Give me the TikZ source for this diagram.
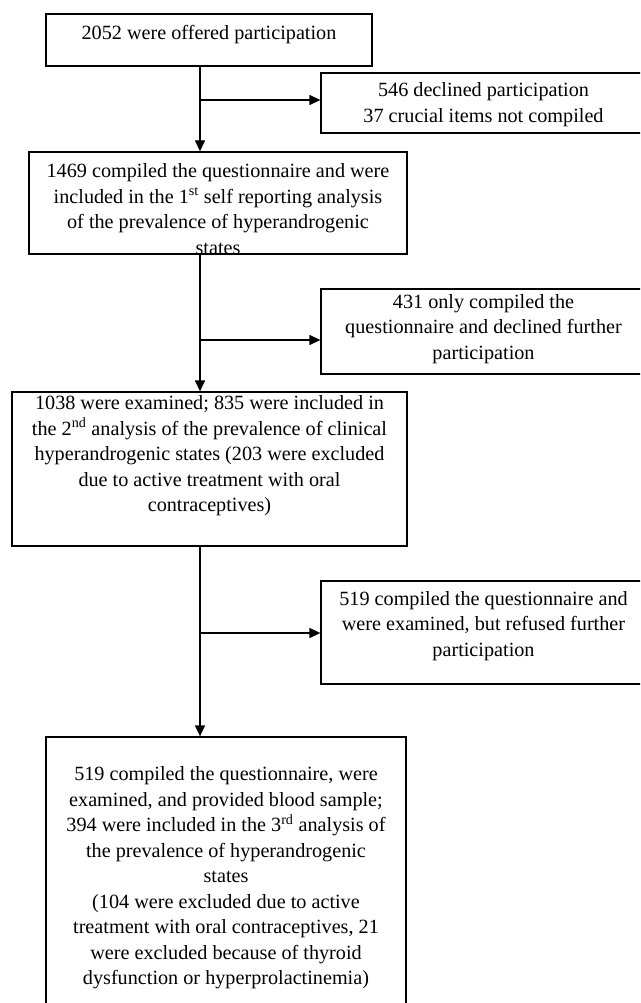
\documentclass[tikz,border=0pt]{standalone}
\usepackage{fontspec}
\setmainfont{Liberation Serif}
\usetikzlibrary{arrows.meta}
\begin{document}
\begin{tikzpicture}[x=1pt,y=-1pt,
  box/.style={draw=black, line width=1.3pt, rectangle, inner sep=0pt},
  txt/.style={align=center, inner sep=0pt, font=\fontsize{20.2}{25.5}\selectfont},
  arr/.style={line width=1.3pt, -{Triangle[length=11pt,width=10pt]}}]
\useasboundingbox (0,0) rectangle (640,1003);
\clip (0,0) rectangle (640,1003);
% boxes
\node[box, minimum width=326pt, minimum height=52pt] (b1) at (209,40) {};
\node[box, minimum width=325pt, minimum height=60pt] (r1) at (483.5,103) {};
\node[box, minimum width=378pt, minimum height=102pt] (b2) at (218,203) {};
\node[box, minimum width=325pt, minimum height=85pt] (r2) at (483.5,331.5) {};
\node[box, minimum width=395pt, minimum height=154pt] (b3) at (209.5,469) {};
\node[box, minimum width=325pt, minimum height=103pt] (r3) at (483.5,632.5) {};
\node[box, minimum width=360pt, minimum height=276pt] (b4) at (226,875) {};
% texts
\node[txt] (t1) at (209,35) {2052 were offered participation};
\node[txt] (tr1) at (483.5,104.5) {546 declined participation\\37 crucial items not compiled};
\node[txt] (t2) at (218,209) {1469 compiled the questionnaire and were\\included in the 1\textsuperscript{st} self reporting analysis\\of the prevalence of hyperandrogenic\\states};
\node[txt] (tr2) at (483.5,329) {431 only compiled the\\questionnaire and declined further\\participation};
\node[txt] (t3) at (209.5,456) {1038 were examined; 835 were included in\\the 2\textsuperscript{nd} analysis of the prevalence of clinical\\hyperandrogenic states (203 were excluded\\due to active treatment with oral\\contraceptives)};
\node[txt] (tr3) at (483.5,626) {519 compiled the questionnaire and\\were examined, but refused further\\participation};
\node[txt] (t4) at (226,878) {519 compiled the questionnaire, were\\examined, and provided blood sample;\\394 were included in the 3\textsuperscript{rd} analysis of\\the prevalence of hyperandrogenic\\states\\(104 were excluded due to active\\treatment with oral contraceptives, 21\\were excluded because of thyroid\\dysfunction or hyperprolactinemia)};
% connectors
\coordinate (k1) at (200,100);
\coordinate (k2) at (200,340);
\coordinate (k3) at (200,633);
\draw[arr] (b1.south -| k1) -- (b2.north -| k1);
\draw[arr] (k1) -- (k1 -| r1.west);
\draw[arr] (b2.south -| k2) -- (b3.north -| k2);
\draw[arr] (k2) -- (k2 -| r2.west);
\draw[arr] (b3.south -| k3) -- (b4.north -| k3);
\draw[arr] (k3) -- (k3 -| r3.west);
\end{tikzpicture}
\end{document}
